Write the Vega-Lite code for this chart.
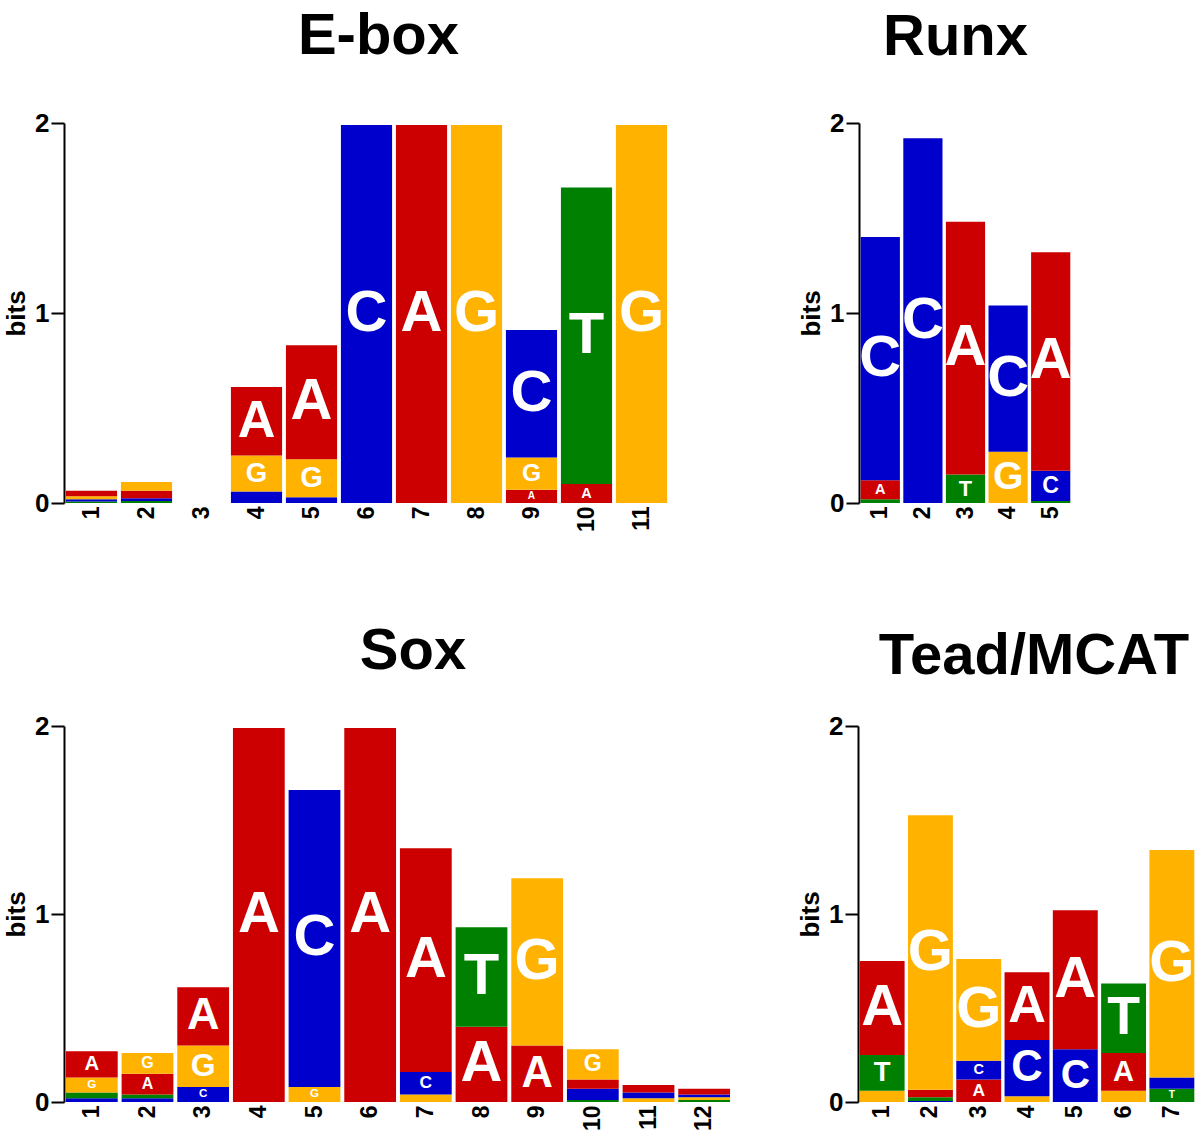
{
  "$schema": "https://vega.github.io/schema/vega-lite/v6.json",
  "padding": {"left": 3, "top": 8, "right": 0, "bottom": 0},
  "config": {
    "font": "Liberation Sans",
    "view": {"stroke": null},
    "axisX": {"labelAngle": -90, "labelFontSize": 23, "labelFontWeight": "bold", "labelColor": "black", "ticks": false, "domain": false, "labelPadding": 3},
    "axisY": {"labelFontSize": 26, "labelFontWeight": "bold", "labelColor": "black", "tickSize": 13, "tickWidth": 2, "tickColor": "black", "domainWidth": 2, "domainColor": "black", "grid": false, "labelPadding": 2, "titleFontSize": 26, "titleFontWeight": "bold", "titleColor": "black", "titlePadding": 5, "format": "d"},
    "title": {"fontSize": 58, "fontWeight": "bold", "color": "black", "baseline": "alphabetic", "anchor": "middle", "frame": "group"}
  },
  "datasets": {
    "ebox": [
      {"pos": 1, "base": "T", "bits": 0.008, "rank": 1},
      {"pos": 1, "base": "C", "bits": 0.012, "rank": 2},
      {"pos": 1, "base": "G", "bits": 0.015, "rank": 3},
      {"pos": 1, "base": "A", "bits": 0.03, "rank": 4},
      {"pos": 2, "base": "T", "bits": 0.01, "rank": 1},
      {"pos": 2, "base": "C", "bits": 0.015, "rank": 2},
      {"pos": 2, "base": "A", "bits": 0.04, "rank": 3},
      {"pos": 2, "base": "G", "bits": 0.045, "rank": 4},
      {"pos": 3, "base": "A", "bits": 0, "rank": 1},
      {"pos": 4, "base": "C", "bits": 0.06, "rank": 1},
      {"pos": 4, "base": "G", "bits": 0.19, "rank": 2},
      {"pos": 4, "base": "A", "bits": 0.36, "rank": 3},
      {"pos": 5, "base": "C", "bits": 0.03, "rank": 1},
      {"pos": 5, "base": "G", "bits": 0.2, "rank": 2},
      {"pos": 5, "base": "A", "bits": 0.6, "rank": 3},
      {"pos": 6, "base": "C", "bits": 1.99, "rank": 1},
      {"pos": 7, "base": "A", "bits": 1.99, "rank": 1},
      {"pos": 8, "base": "G", "bits": 1.99, "rank": 1},
      {"pos": 9, "base": "A", "bits": 0.07, "rank": 1},
      {"pos": 9, "base": "G", "bits": 0.17, "rank": 2},
      {"pos": 9, "base": "C", "bits": 0.67, "rank": 3},
      {"pos": 10, "base": "A", "bits": 0.1, "rank": 1},
      {"pos": 10, "base": "T", "bits": 1.56, "rank": 2},
      {"pos": 11, "base": "G", "bits": 1.99, "rank": 1}
    ],
    "runx": [
      {"pos": 1, "base": "T", "bits": 0.02, "rank": 1},
      {"pos": 1, "base": "A", "bits": 0.1, "rank": 2},
      {"pos": 1, "base": "C", "bits": 1.28, "rank": 3},
      {"pos": 2, "base": "C", "bits": 1.92, "rank": 1},
      {"pos": 3, "base": "T", "bits": 0.15, "rank": 1},
      {"pos": 3, "base": "A", "bits": 1.33, "rank": 2},
      {"pos": 4, "base": "G", "bits": 0.27, "rank": 1},
      {"pos": 4, "base": "C", "bits": 0.77, "rank": 2},
      {"pos": 5, "base": "T", "bits": 0.01, "rank": 1},
      {"pos": 5, "base": "C", "bits": 0.16, "rank": 2},
      {"pos": 5, "base": "A", "bits": 1.15, "rank": 3}
    ],
    "sox": [
      {"pos": 1, "base": "C", "bits": 0.02, "rank": 1},
      {"pos": 1, "base": "T", "bits": 0.03, "rank": 2},
      {"pos": 1, "base": "G", "bits": 0.08, "rank": 3},
      {"pos": 1, "base": "A", "bits": 0.14, "rank": 4},
      {"pos": 2, "base": "C", "bits": 0.02, "rank": 1},
      {"pos": 2, "base": "T", "bits": 0.02, "rank": 2},
      {"pos": 2, "base": "A", "bits": 0.11, "rank": 3},
      {"pos": 2, "base": "G", "bits": 0.11, "rank": 4},
      {"pos": 3, "base": "C", "bits": 0.08, "rank": 1},
      {"pos": 3, "base": "G", "bits": 0.22, "rank": 2},
      {"pos": 3, "base": "A", "bits": 0.31, "rank": 3},
      {"pos": 4, "base": "A", "bits": 1.99, "rank": 1},
      {"pos": 5, "base": "G", "bits": 0.08, "rank": 1},
      {"pos": 5, "base": "C", "bits": 1.58, "rank": 2},
      {"pos": 6, "base": "A", "bits": 1.99, "rank": 1},
      {"pos": 7, "base": "G", "bits": 0.04, "rank": 1},
      {"pos": 7, "base": "C", "bits": 0.12, "rank": 2},
      {"pos": 7, "base": "A", "bits": 1.19, "rank": 3},
      {"pos": 8, "base": "A", "bits": 0.4, "rank": 1},
      {"pos": 8, "base": "T", "bits": 0.53, "rank": 2},
      {"pos": 9, "base": "A", "bits": 0.3, "rank": 1},
      {"pos": 9, "base": "G", "bits": 0.89, "rank": 2},
      {"pos": 10, "base": "T", "bits": 0.01, "rank": 1},
      {"pos": 10, "base": "C", "bits": 0.06, "rank": 2},
      {"pos": 10, "base": "A", "bits": 0.05, "rank": 3},
      {"pos": 10, "base": "G", "bits": 0.16, "rank": 4},
      {"pos": 11, "base": "G", "bits": 0.02, "rank": 1},
      {"pos": 11, "base": "C", "bits": 0.03, "rank": 2},
      {"pos": 11, "base": "A", "bits": 0.04, "rank": 3},
      {"pos": 12, "base": "T", "bits": 0.01, "rank": 1},
      {"pos": 12, "base": "G", "bits": 0.015, "rank": 2},
      {"pos": 12, "base": "C", "bits": 0.015, "rank": 3},
      {"pos": 12, "base": "A", "bits": 0.03, "rank": 4}
    ],
    "tead": [
      {"pos": 1, "base": "G", "bits": 0.06, "rank": 1},
      {"pos": 1, "base": "T", "bits": 0.19, "rank": 2},
      {"pos": 1, "base": "A", "bits": 0.5, "rank": 3},
      {"pos": 2, "base": "C", "bits": 0.005, "rank": 1},
      {"pos": 2, "base": "T", "bits": 0.02, "rank": 2},
      {"pos": 2, "base": "A", "bits": 0.04, "rank": 3},
      {"pos": 2, "base": "G", "bits": 1.46, "rank": 4},
      {"pos": 3, "base": "A", "bits": 0.12, "rank": 1},
      {"pos": 3, "base": "C", "bits": 0.1, "rank": 2},
      {"pos": 3, "base": "G", "bits": 0.54, "rank": 3},
      {"pos": 4, "base": "G", "bits": 0.03, "rank": 1},
      {"pos": 4, "base": "C", "bits": 0.3, "rank": 2},
      {"pos": 4, "base": "A", "bits": 0.36, "rank": 3},
      {"pos": 5, "base": "C", "bits": 0.28, "rank": 1},
      {"pos": 5, "base": "A", "bits": 0.74, "rank": 2},
      {"pos": 6, "base": "G", "bits": 0.06, "rank": 1},
      {"pos": 6, "base": "A", "bits": 0.2, "rank": 2},
      {"pos": 6, "base": "T", "bits": 0.37, "rank": 3},
      {"pos": 7, "base": "T", "bits": 0.07, "rank": 1},
      {"pos": 7, "base": "C", "bits": 0.06, "rank": 2},
      {"pos": 7, "base": "G", "bits": 1.21, "rank": 3}
    ]
  },
  "spacing": 91,
  "vconcat": [
    {
      "spacing": 129,
      "hconcat": [
        {
          "title": {"text": "E-box", "dx": 12, "offset": 44},
          "width": 605, "height": 380,
          "data": {"name": "ebox"},
          "transform": [{"stack": "bits", "groupby": ["pos"], "sort": [{"field": "rank", "order": "ascending"}], "as": ["y0", "y1"]}],
          "encoding": {"x": {"field": "pos", "type": "ordinal", "scale": {"paddingInner": 0.07, "paddingOuter": 0.035}, "axis": {"title": null}}},
          "layer": [
            {"mark": {"type": "bar"}, "encoding": {
              "y": {"field": "y0", "type": "quantitative", "scale": {"domain": [0, 2]}, "axis": {"values": [0, 1, 2], "title": "bits"}},
              "y2": {"field": "y1"},
              "color": {"field": "base", "type": "nominal", "scale": {"domain": ["A", "C", "G", "T"], "range": ["#CC0000", "#0000CC", "#FFB300", "#008000"]}, "legend": null}}},
            {"transform": [{"fold": ["y0", "y1"], "as": ["k", "v"]}, {"aggregate": [{"op": "mean", "field": "v", "as": "ymid"}, {"op": "max", "field": "bits", "as": "h"}], "groupby": ["pos", "base"]}, {"filter": "datum.h >= 0.07"}],
             "mark": {"type": "text", "color": "white", "fontWeight": "bold", "baseline": "middle"},
             "encoding": {"y": {"field": "ymid", "type": "quantitative"}, "text": {"field": "base"}, "size": {"field": "h", "type": "quantitative", "scale": {"domain": [0, 0.4], "range": [0, 58], "clamp": true}, "legend": null}}}
          ]
        },
        {
          "title": {"text": "Runx", "dx": -10, "offset": 43},
          "width": 213, "height": 380,
          "data": {"name": "runx"},
          "transform": [{"stack": "bits", "groupby": ["pos"], "sort": [{"field": "rank", "order": "ascending"}], "as": ["y0", "y1"]}],
          "encoding": {"x": {"field": "pos", "type": "ordinal", "scale": {"paddingInner": 0.08, "paddingOuter": 0.04}, "axis": {"title": null}}},
          "layer": [
            {"mark": {"type": "bar"}, "encoding": {
              "y": {"field": "y0", "type": "quantitative", "scale": {"domain": [0, 2]}, "axis": {"values": [0, 1, 2], "title": "bits"}},
              "y2": {"field": "y1"},
              "color": {"field": "base", "type": "nominal", "scale": {"domain": ["A", "C", "G", "T"], "range": ["#CC0000", "#0000CC", "#FFB300", "#008000"]}, "legend": null}}},
            {"transform": [{"fold": ["y0", "y1"], "as": ["k", "v"]}, {"aggregate": [{"op": "mean", "field": "v", "as": "ymid"}, {"op": "max", "field": "bits", "as": "h"}], "groupby": ["pos", "base"]}, {"filter": "datum.h >= 0.07"}],
             "mark": {"type": "text", "color": "white", "fontWeight": "bold", "baseline": "middle"},
             "encoding": {"y": {"field": "ymid", "type": "quantitative"}, "text": {"field": "base"}, "size": {"field": "h", "type": "quantitative", "scale": {"domain": [0, 0.3], "range": [0, 46], "clamp": true}, "legend": null}}}
          ]
        }
      ]
    },
    {
      "spacing": 65,
      "hconcat": [
        {
          "title": {"text": "Sox", "dx": 15, "offset": 32},
          "width": 668, "height": 376,
          "data": {"name": "sox"},
          "transform": [{"stack": "bits", "groupby": ["pos"], "sort": [{"field": "rank", "order": "ascending"}], "as": ["y0", "y1"]}],
          "encoding": {"x": {"field": "pos", "type": "ordinal", "scale": {"paddingInner": 0.07, "paddingOuter": 0.035}, "axis": {"title": null}}},
          "layer": [
            {"mark": {"type": "bar"}, "encoding": {
              "y": {"field": "y0", "type": "quantitative", "scale": {"domain": [0, 2]}, "axis": {"values": [0, 1, 2], "title": "bits"}},
              "y2": {"field": "y1"},
              "color": {"field": "base", "type": "nominal", "scale": {"domain": ["A", "C", "G", "T"], "range": ["#CC0000", "#0000CC", "#FFB300", "#008000"]}, "legend": null}}},
            {"transform": [{"fold": ["y0", "y1"], "as": ["k", "v"]}, {"aggregate": [{"op": "mean", "field": "v", "as": "ymid"}, {"op": "max", "field": "bits", "as": "h"}], "groupby": ["pos", "base"]}, {"filter": "datum.h >= 0.07"}],
             "mark": {"type": "text", "color": "white", "fontWeight": "bold", "baseline": "middle"},
             "encoding": {"y": {"field": "ymid", "type": "quantitative"}, "text": {"field": "base"}, "size": {"field": "h", "type": "quantitative", "scale": {"domain": [0, 0.4], "range": [0, 58], "clamp": true}, "legend": null}}}
          ]
        },
        {
          "title": {"text": "Tead/MCAT", "dx": 7, "offset": 27},
          "width": 338, "height": 376,
          "data": {"name": "tead"},
          "transform": [{"stack": "bits", "groupby": ["pos"], "sort": [{"field": "rank", "order": "ascending"}], "as": ["y0", "y1"]}],
          "encoding": {"x": {"field": "pos", "type": "ordinal", "scale": {"paddingInner": 0.07, "paddingOuter": 0.035}, "axis": {"title": null}}},
          "layer": [
            {"mark": {"type": "bar"}, "encoding": {
              "y": {"field": "y0", "type": "quantitative", "scale": {"domain": [0, 2]}, "axis": {"values": [0, 1, 2], "title": "bits"}},
              "y2": {"field": "y1"},
              "color": {"field": "base", "type": "nominal", "scale": {"domain": ["A", "C", "G", "T"], "range": ["#CC0000", "#0000CC", "#FFB300", "#008000"]}, "legend": null}}},
            {"transform": [{"fold": ["y0", "y1"], "as": ["k", "v"]}, {"aggregate": [{"op": "mean", "field": "v", "as": "ymid"}, {"op": "max", "field": "bits", "as": "h"}], "groupby": ["pos", "base"]}, {"filter": "datum.h >= 0.07"}],
             "mark": {"type": "text", "color": "white", "fontWeight": "bold", "baseline": "middle"},
             "encoding": {"y": {"field": "ymid", "type": "quantitative"}, "text": {"field": "base"}, "size": {"field": "h", "type": "quantitative", "scale": {"domain": [0, 0.36], "range": [0, 52], "clamp": true}, "legend": null}}}
          ]
        }
      ]
    }
  ]
}
